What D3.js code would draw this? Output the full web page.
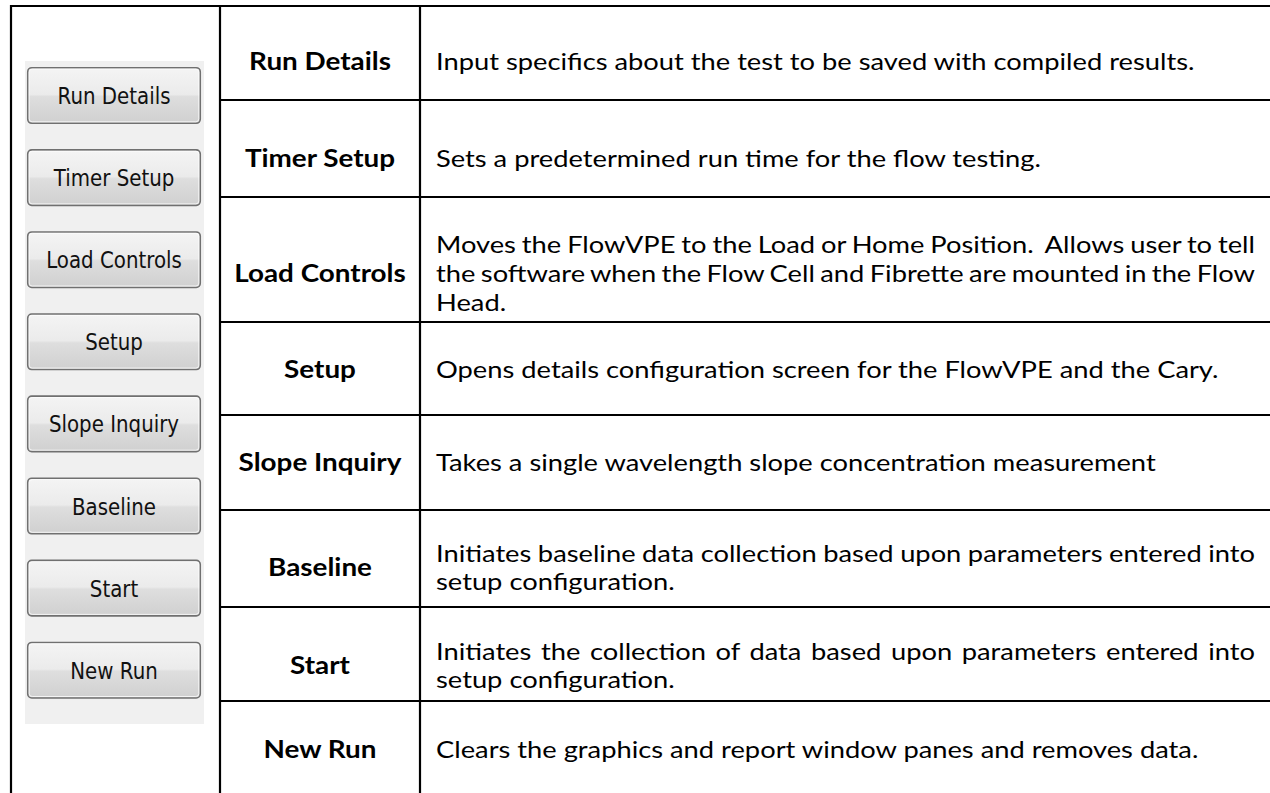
<!DOCTYPE html>
<html>
<head>
<meta charset="utf-8">
<script src="https://cdn.jsdelivr.net/npm/d3@7"></script>
<style>
  html, body { margin: 0; padding: 0; background: #fff; }
  svg { display: block; }
  text { white-space: pre; }
</style>
</head>
<body>
<svg id="chart" width="1270" height="793"></svg>
<script>
// ---------- data ----------
const categories = ["Run Details", "Timer Setup", "Load Controls", "Setup",
                    "Slope Inquiry", "Baseline", "Start", "New Run"];
const buttonLabels = ["Run Details", "Timer Setup", "Load Controls", "Setup",
                      "Slope Inquiry", "Baseline", "Start", "New Run"];
const descriptions = [
  ["Input specifics about the test to be saved with compiled results."],
  ["Sets a predetermined run time for the flow testing."],
  ["Moves the FlowVPE to the Load or Home Position.  Allows user to tell",
   "the software when the Flow Cell and Fibrette are mounted in the Flow",
   "Head."],
  ["Opens details configuration screen for the FlowVPE and the Cary."],
  ["Takes a single wavelength slope concentration measurement"],
  ["Initiates baseline data collection based upon parameters entered into",
   "setup configuration."],
  ["Initiates the collection of data based upon parameters entered into",
   "setup configuration."],
  ["Clears the graphics and report window panes and removes data."]
];

// ---------- layout ----------
const W = 1270, H = 793;
const colX = [11, 220, 420];            // vertical rules
const tableTop = 6;
const rowEdges = [6, 100, 197, 322, 415, 510, 607, 701, 793];
const textCenters = [61, 158, 273, 369, 462, 567, 665, 749];
const lineGap = 29;
const descX = 436, descRight = 1255;
const labelCX = (colX[1] + colX[2]) / 2;
const baseOff = 9;
const fs = 24;

const svg = d3.select("#chart");
svg.append("rect").attr("width", W).attr("height", H).attr("fill", "#fff");

const rowBottom = d3.scaleOrdinal(categories, rowEdges.slice(1));
const textY = d3.scaleOrdinal(categories, textCenters);

// ---------- button panel ----------
const panel = { x0: 25, x1: 204, y0: 61, y1: 724 };
svg.append("rect")
  .attr("x", panel.x0).attr("y", panel.y0)
  .attr("width", panel.x1 - panel.x0).attr("height", panel.y1 - panel.y0)
  .attr("fill", "#f0f0f0");

const defs = svg.append("defs");
const grad = defs.append("linearGradient").attr("id", "btn")
  .attr("x1", 0).attr("y1", 0).attr("x2", 0).attr("y2", 1);
[[0, "#f4f4f4"], [0.48, "#ebebeb"], [0.52, "#dedede"], [1, "#d0d0d0"]]
  .forEach(([o, c]) => grad.append("stop").attr("offset", o).attr("stop-color", c));

const btnY = d3.scaleBand().domain(buttonLabels).range([67, 67 + 82.1 * 8]);
const btnH = 57, btnX = 27, btnW = 174;

const btn = svg.append("g").selectAll("g").data(buttonLabels).join("g")
  .attr("transform", d => `translate(${btnX},${btnY(d)})`);
btn.append("rect")
  .attr("x", 0.75).attr("y", 0.75).attr("width", btnW - 1.5).attr("height", btnH - 1.5)
  .attr("rx", 4).attr("fill", "url(#btn)").attr("stroke", "#707070").attr("stroke-width", 1.6);
btn.append("rect")
  .attr("x", 2.2).attr("y", 2.2).attr("width", btnW - 4.4).attr("height", btnH - 4.4)
  .attr("rx", 3).attr("fill", "none").attr("stroke", "#fcfcfc").attr("stroke-width", 1).attr("opacity", 0.8);

const btnText = btn.append("text")
  .attr("font-family", "DejaVu Sans, sans-serif")
  .attr("font-size", 23)
  .attr("fill", "#111")
  .attr("text-anchor", "middle")
  .text(d => d);
const refBtnW = btnText.nodes()[0].getComputedTextLength();
const bsx = 113 / refBtnW;
btnText.attr("transform", `translate(${btnW / 2},${btnH / 2 + 8.5}) scale(${bsx},1)`);

// ---------- table rules ----------
const rules = svg.append("g").attr("stroke", "#000").attr("stroke-width", 2.2);
rules.append("line").attr("x1", colX[0] - 1).attr("x2", W).attr("y1", tableTop).attr("y2", tableTop);
rules.selectAll("line.v").data(colX).join("line").attr("class", "v")
  .attr("x1", d => d).attr("x2", d => d).attr("y1", tableTop - 1).attr("y2", H);
rules.selectAll("line.h").data(categories.slice(0, -1)).join("line").attr("class", "h")
  .attr("x1", colX[1]).attr("x2", W).attr("y1", d => rowBottom(d)).attr("y2", d => rowBottom(d));

// ---------- labels (bold) ----------
const labels = svg.append("g").selectAll("text").data(categories).join("text")
  .attr("font-family", "Lato, sans-serif").attr("font-weight", 700)
  .attr("font-size", fs).attr("fill", "#000").attr("text-anchor", "middle")
  .text(d => d);
const lsx = 142 / labels.nodes()[0].getComputedTextLength();
labels.attr("transform", d => `translate(${labelCX},${textY(d) + baseOff}) scale(${lsx},1)`);

// ---------- descriptions (one text per cell, lines as tspans) ----------
const descG = svg.append("g");
const probe = descG.append("text").attr("font-family", "Lato, sans-serif")
  .attr("font-size", fs).text(descriptions[0][0]);
const dsx = 759 / probe.node().getComputedTextLength();
probe.remove();

categories.forEach((cat, i) => {
  const lines = descriptions[i];
  const y0 = textY(cat) - (lines.length - 1) * lineGap / 2 + baseOff;
  const t = descG.append("text")
    .attr("font-family", "Lato, sans-serif").attr("font-size", fs).attr("fill", "#000")
    .attr("transform", `translate(${descX},${y0}) scale(${dsx},1)`);
  lines.forEach((ln, j) => {
    const ts = t.append("tspan").attr("x", 0).attr("y", j * lineGap).text(ln);
    if (j < lines.length - 1) {
      const natural = ts.node().getComputedTextLength();
      const spaces = (ln.match(/ /g) || []).length;
      const target = (descRight - descX) / dsx;
      if (spaces > 0) ts.attr("word-spacing", (target - natural) / spaces);
    }
  });
});
</script>
</body>
</html>
